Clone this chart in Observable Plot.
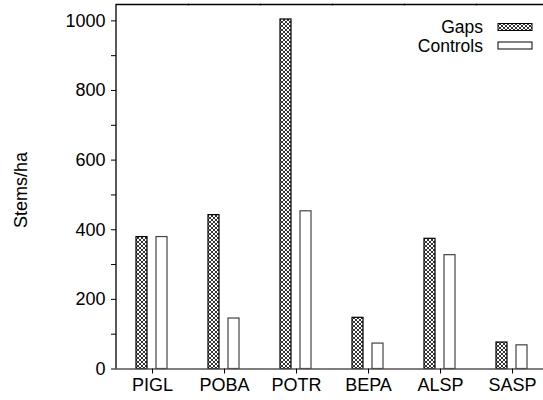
<!DOCTYPE html>
<html>
<head>
<meta charset="utf-8">
<script src="https://cdn.jsdelivr.net/npm/d3@7"></script>
<script src="https://cdn.jsdelivr.net/npm/@observablehq/plot@0.6"></script>
<style>
  html, body { margin: 0; padding: 0; background: #fff; overflow: hidden; }
  #chart { position: relative; width: 543px; height: 400px; overflow: hidden; }
  svg { font-family: "Liberation Sans", Arial, sans-serif; }
</style>
</head>
<body>
<div id="chart"></div>
<script>
const species = ["PIGL", "POBA", "POTR", "BEPA", "ALSP", "SASP"];
const series = ["Gaps", "Controls"];
const gaps = [379, 442, 1004, 147, 374, 76];
const controls = [379, 145, 453, 73, 327, 68];
const yTicks = [0, 200, 400, 600, 800, 1000];
const yMinorTicks = [100, 300, 500, 700, 900];
const yLabel = "Stems/ha";

const data = [];
species.forEach((s, i) => {
  data.push({species: s, group: "Gaps", value: gaps[i]});
  data.push({species: s, group: "Controls", value: controls[i]});
});

const FONT = 18;
const plot = Plot.plot({
  width: 543,
  height: 400,
  marginLeft: 116,
  marginRight: -5,
  marginTop: 4,
  marginBottom: 31.5,
  style: {fontSize: FONT + "px", fontFamily: "Liberation Sans, Arial, sans-serif", color: "#000", background: "#fff", overflow: "visible"},
  fx: {domain: species, padding: 0, label: null},
  x: {domain: series, paddingInner: 0.4286, paddingOuter: 0.93, axis: null},
  y: {domain: [0, 1047], label: null},
  marks: [
    Plot.barY(data, {
      fx: "species", x: "group", y: "value",
      fill: d => d.group === "Gaps" ? "url(#crosshatch)" : "#fff",
      stroke: d => d.group === "Gaps" ? "#000" : "#444",
      strokeWidth: 1.2
    }),
    Plot.frame({anchor: "top", stroke: "#000", strokeWidth: 1.3}),
    Plot.ruleY([0], {stroke: "#555", strokeWidth: 1.3}),
    Plot.axisFx({anchor: "bottom", tickSize: 5, tickPadding: 4, fontSize: FONT, label: null, stroke: "#000"}),
    Plot.axisY({ticks: yTicks, tickSize: 5, tickPadding: 6, fontSize: FONT, label: null, stroke: "#000", tickFormat: d => String(d)}),
    Plot.axisY({ticks: yMinorTicks, tickSize: 5, tickFormat: () => "", label: null, stroke: "#000"})
  ]
});

document.getElementById("chart").appendChild(plot);

const svg = d3.select(plot);
// crosshatch pattern
const defs = svg.insert("defs", ":first-child");
const pat = defs.append("pattern")
  .attr("id", "crosshatch")
  .attr("patternUnits", "userSpaceOnUse")
  .attr("width", 4).attr("height", 4);
pat.append("rect").attr("width", 4).attr("height", 4).attr("fill", "#fff");
pat.append("path").attr("d", "M0,0L4,4M4,0L0,4")
  .attr("stroke", "#000").attr("stroke-width", 0.8);

// left axis line
svg.append("line")
  .attr("x1", 116).attr("x2", 116).attr("y1", 4).attr("y2", 368.5)
  .attr("stroke", "#000").attr("stroke-width", 1.3);

// y label
svg.append("text")
  .attr("transform", "translate(27,190) rotate(-90)")
  .attr("text-anchor", "middle")
  .attr("font-size", FONT)
  .attr("fill", "#000")
  .text(yLabel);

// legend
const leg = svg.append("g").attr("font-size", 17.5).attr("fill", "#000");
series.forEach((s, i) => {
  const yc = 27 + i * 18.5;
  leg.append("text").attr("x", 483).attr("y", yc).attr("dy", "0.35em")
    .attr("text-anchor", "end").text(s);
  leg.append("rect").attr("x", 498).attr("y", yc - 3.5).attr("width", 34).attr("height", 7)
    .attr("fill", s === "Gaps" ? "url(#crosshatch)" : "#fff")
    .attr("stroke", "#000").attr("stroke-width", 1);
});
</script>
</body>
</html>
